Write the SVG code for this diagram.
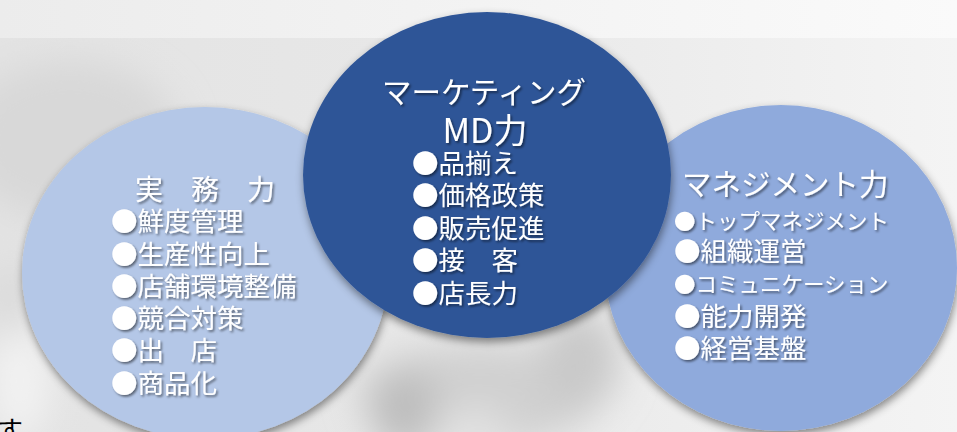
<svg xmlns="http://www.w3.org/2000/svg" width="957" height="432" viewBox="0 0 957 432">
<defs>
<style>
.t{font-family:"Noto Sans CJK JP","Noto Sans",sans-serif;fill:#ffffff;filter:url(#ts);}
.ttl{font-size:29.5px;}
.itm{font-size:26.5px;}
.sm{font-size:21.5px;}
</style>
<linearGradient id="band" x1="0" y1="0" x2="1" y2="0">
<stop offset="0" stop-color="#ececec"/>
<stop offset="1" stop-color="#fafafa"/>
</linearGradient>
<linearGradient id="bg" x1="0" y1="0" x2="1" y2="0">
<stop offset="0" stop-color="#e3e3e3"/>
<stop offset="0.5" stop-color="#e8e8e8"/>
<stop offset="1" stop-color="#f4f4f4"/>
</linearGradient>
<filter id="blur" x="-50%" y="-50%" width="200%" height="200%"><feGaussianBlur stdDeviation="18"/></filter>
<filter id="cs" x="-10%" y="-10%" width="120%" height="125%"><feDropShadow dx="1" dy="4" stdDeviation="4" flood-color="#000" flood-opacity="0.45"/></filter>
<filter id="ts" x="-5%" y="-20%" width="115%" height="150%"><feDropShadow dx="1.6" dy="1.8" stdDeviation="1.1" flood-color="#000" flood-opacity="0.5"/></filter>
</defs>
<g id="background">
<rect x="0" y="0" width="957" height="432" fill="url(#bg)"/>
<g filter="url(#blur)">
<ellipse cx="70" cy="140" rx="110" ry="80" fill="#d8d8d8"/>
<ellipse cx="480" cy="395" rx="120" ry="50" fill="#d0d0d0"/>
<ellipse cx="405" cy="410" rx="35" ry="40" fill="#bdbdbd"/>
<ellipse cx="580" cy="360" rx="40" ry="50" fill="#c9c9c9"/>
<ellipse cx="470" cy="425" rx="40" ry="14" fill="#e4e4e4"/>
<ellipse cx="20" cy="380" rx="30" ry="60" fill="#f2f2f2"/>
<ellipse cx="10" cy="300" rx="12" ry="40" fill="#d4d4d4"/>
</g>
<rect x="0" y="0" width="957" height="38" fill="url(#band)"/>
<text x="-3" y="440" style="font-family:'Noto Sans CJK JP','Noto Sans',sans-serif;font-size:26px;fill:#000">す</text>
</g>
<g id="connectors"/>
<g id="node-jitsumu">
<ellipse cx="205" cy="273" rx="183" ry="166" fill="#b4c7e7" filter="url(#cs)"/>
<text class="t ttl" x="135" y="200" style="font-size:28px">実　務　力</text>
<text class="t itm" x="111" y="231">●鮮度管理</text>
<text class="t itm" x="111" y="264">●生産性向上</text>
<text class="t itm" x="111" y="296">●店舗環境整備</text>
<text class="t itm" x="111" y="328">●競合対策</text>
<text class="t itm" x="111" y="360">●出　店</text>
<text class="t itm" x="111" y="393">●商品化</text>
</g>
<g id="node-management">
<ellipse cx="781" cy="268" rx="176" ry="163" fill="#8faadc" filter="url(#cs)"/>
<text class="t ttl" x="682" y="195">マネジメント力</text>
<text class="t sm" x="674" y="229">●トップマネジメント</text>
<text class="t itm" x="674" y="261">●組織運営</text>
<text class="t sm" x="674" y="292">●コミュニケーション</text>
<text class="t itm" x="674" y="326">●能力開発</text>
<text class="t itm" x="674" y="358">●経営基盤</text>
</g>
<g id="node-marketing">
<ellipse cx="487" cy="175" rx="184" ry="163" fill="#2f5597" filter="url(#cs)"/>
<text class="t ttl" x="484" y="103" text-anchor="middle">マーケティング</text>
<text class="t" x="485" y="143" text-anchor="middle" style="font-size:34px">MD力</text>
<text class="t itm" x="412" y="173">●品揃え</text>
<text class="t itm" x="412" y="205">●価格政策</text>
<text class="t itm" x="412" y="238">●販売促進</text>
<text class="t itm" x="412" y="270">●接　客</text>
<text class="t itm" x="412" y="303">●店長力</text>
</g>
</svg>
